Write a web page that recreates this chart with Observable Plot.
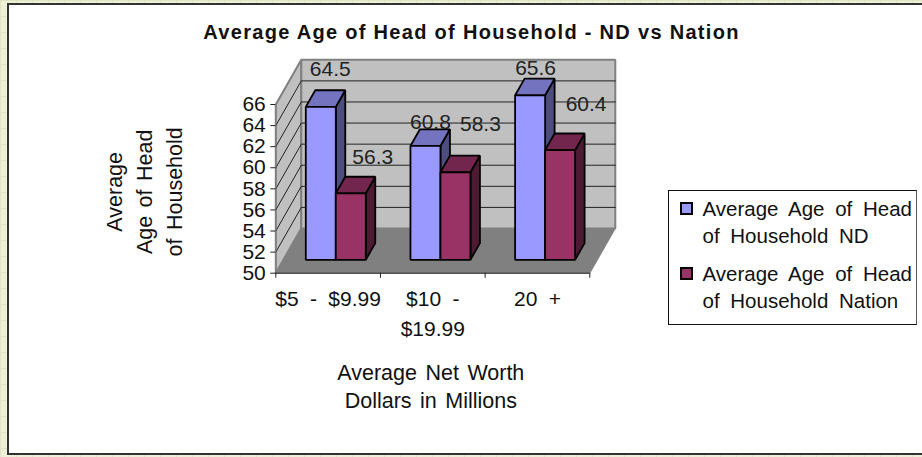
<!DOCTYPE html>
<html>
<head>
<meta charset="utf-8">
<script src="https://cdn.jsdelivr.net/npm/d3@7"></script>
<script src="https://cdn.jsdelivr.net/npm/@observablehq/plot@0.6"></script>
<style>
html,body{margin:0;padding:0;width:922px;height:457px;overflow:hidden;font-family:"Liberation Sans",Arial,sans-serif;color:#111}
body{position:relative;background-color:#eef0d8;
 background-image:linear-gradient(#e0e3c4 1px,transparent 1px),linear-gradient(90deg,#e0e3c4 1px,transparent 1px);
 background-size:16px 16px}
#frame{position:absolute;left:7px;top:3px;right:-4px;bottom:2px;background:#fff;border:2px solid #333;box-sizing:border-box}
#chart{position:absolute;left:0;top:0}
#chart svg{background:transparent!important;display:block}
#chart svg text{word-spacing:2.5px}
#chart svg g[aria-label="x-axis tick label"] text{word-spacing:5.5px}
#chart svg g[font-weight="bold"] text{letter-spacing:1.3px;word-spacing:0}
#legend{position:absolute;left:668px;top:190px;width:249px;height:135px;box-sizing:border-box;background:#fff;border:1px solid #111;border-right-color:#555;font-size:20.5px;line-height:26.5px;word-spacing:5px}
.key{position:absolute;left:11px;width:240px}
.swatch{position:absolute;left:0;top:6px;width:13px;height:13px;box-sizing:border-box;border:2px solid #000}
.lab{position:absolute;left:22.5px;white-space:pre}
</style>
</head>
<body>
<div id="frame"></div>
<div id="chart"></div>
<div id="legend"></div>
<script>
// ---- values ----
const categories = ["$5 - $9.99", "$10 -\n$19.99", "20 +"];
const seriesNames = ["Average Age of Head\nof Household ND", "Average Age of Head\nof Household Nation"];
const ndValues = [64.5, 60.8, 65.6];
const nationValues = [56.3, 58.3, 60.4];
const chartTitle = "Average Age of Head of Household - ND vs Nation";
const yTitle = "Average\nAge of Head\nof Household";
const xTitle = "Average Net Worth\nDollars in Millions";
const yTicks = [50, 52, 54, 56, 58, 60, 62, 64, 66];

// ---- look ----
const faces = [
  {front: "#9999ff", top: "#7373bf", side: "#4d4d80"},
  {front: "#993366", top: "#73264d", side: "#4d1a33"}
];
const yMin = 50, yMax = 66;
// oblique projection: depth 0 = front plane, 1 = back wall
const skewX = 0.2436, skewY = 4.24;
const P = (c, v, d) => ({x: c + d * skewX, y: v + d * skewY});
const barW = 0.2866, gap = (1 - 2 * barW) / 2, d0 = 0.3, d1 = 0.672;

const polys = [];
let pid = 0;
const poly = (pts, fill, stroke, sw) => {
  const id = pid++;
  pts.forEach(p => polys.push({...p, id, fill, stroke, sw}));
};
const n = categories.length;
// side wall, back wall and floor
poly([P(0, yMin, 0), P(0, yMax, 0), P(0, yMax, 1), P(0, yMin, 1)], "#c0c0c0", "#808080", 2);
poly([P(0, yMin, 1), P(0, yMax, 1), P(n, yMax, 1), P(n, yMin, 1)], "#c0c0c0", "#808080", 2);
poly([P(0, yMin, 0), P(n, yMin, 0), P(n, yMin, 1), P(0, yMin, 1)], "#808080", "#808080", 1);
const backPolys = polys.slice(); polys.length = 0;

const wallLines = [];
yTicks.forEach((t, i) => {
  if (t === yMin || t === yMax) return;
  wallLines.push({...P(0, t, 0), k: i}, {...P(0, t, 1), k: i}, {...P(n, t, 1), k: i});
});

const labels = [];
// text offsets from each bar's front-top corner, as in the picture
const nudge = [[[9.5, -38], [22, -36]], [[5, -24], [25, -48]], [[5.5, -27.5], [26, -45.5]]];
categories.forEach((_, c) => {
  [ndValues[c], nationValues[c]].forEach((v, s) => {
    const x0 = c + gap + s * barW, x1 = x0 + barW, f = faces[s];
    poly([P(x1, yMin, d0), P(x1, yMin, d1), P(x1, v, d1), P(x1, v, d0)], f.side, "#000", 1.8);
    poly([P(x0, v, d0), P(x1, v, d0), P(x1, v, d1), P(x0, v, d1)], f.top, "#000", 1.8);
    poly([P(x0, yMin, d0), P(x1, yMin, d0), P(x1, v, d0), P(x0, v, d0)], f.front, "#000", 1.8);
    labels.push({...P((x0 + x1) / 2, v, d0), text: v.toFixed(1), dx: nudge[c][s][0], dy: nudge[c][s][1]});
  });
});

const closed = arr => Plot.line(arr, {x: "x", y: "y", z: "id", fill: "fill", stroke: "stroke",
  strokeWidth: "sw", curve: "linear-closed", strokeLinejoin: "miter"});

const font = {fontFamily: "Liberation Sans, Arial, sans-serif"};
const plot = Plot.plot({
  width: 922, height: 457,
  marginLeft: 275.3, marginRight: 332.7, marginTop: 104, marginBottom: 184.3,
  style: {background: "transparent", ...font, color: "#111"},
  x: {type: "linear", domain: [0, n]},
  y: {type: "linear", domain: [yMin, yMax]},
  marks: [
    closed(backPolys),
    Plot.line(wallLines, {x: "x", y: "y", z: "k", stroke: "#222", strokeWidth: 1}),
    Plot.ruleX([0], {y1: yMin, y2: yMax, stroke: "#808080", strokeWidth: 1}),
    Plot.ruleY([yMin], {x1: 0, x2: n, stroke: "#333", strokeWidth: 1}),
    closed(polys),
    Plot.axisY({ticks: yTicks, tickSize: 5, tickPadding: 5, fontSize: 21, label: null, stroke: "#222", fill: "#111", tickFormat: d => String(d)}),
    Plot.axisX({ticks: d3.range(n + 1), tickSize: 5, tickFormat: () => "", label: null, stroke: "#222"}),
    Plot.axisX({ticks: categories.map((_, i) => i + 0.5), tickSize: 0, tickPadding: 11, fontSize: 21, lineHeight: 1.43, label: null, lineAnchor: "top",
      textAnchor: "middle", fill: "#111", tickFormat: d => categories[Math.floor(d)]}),
    Plot.text(labels, {x: "x", y: "y", text: "text", fontSize: 21, fill: "#222",
      render(index, scales, values, dims, ctx, next) {
        const g = next(index, scales, values, dims, ctx);
        d3.select(g).selectAll("text").each(function (_, j) {
          const l = labels[index[j]];
          d3.select(this).attr("transform", `translate(${scales.x(l.x) + l.dx},${scales.y(l.y) + l.dy})`);
        });
        return g;
      }
    }),
    Plot.text([chartTitle], {frameAnchor: "top-left", dx: 471 - 275.3, dy: 32 - 104, text: d => d, fontSize: 20, fontWeight: "bold", fill: "#111", textAnchor: "middle", lineAnchor: "middle"}),
    Plot.text([yTitle], {frameAnchor: "left", y: () => 58, dx: 146 - 275.3 - 4, dy: 3, text: d => d, rotate: -90, fontSize: 21.5, lineHeight: 1.395, fill: "#111", textAnchor: "middle", lineAnchor: "middle"}),
    Plot.text([xTitle], {x: () => 1.5, dx: -2, frameAnchor: "bottom", dy: 384.5 - 272.7, text: d => d, fontSize: 21.5, lineHeight: 1.3, fill: "#111", lineAnchor: "middle"})
  ]
});
document.getElementById("chart").appendChild(plot);

// legend
const legend = document.getElementById("legend");
seriesNames.forEach((name, s) => {
  const k = document.createElement("div");
  k.className = "key";
  k.style.top = (s === 0 ? 5 : 70) + "px";
  k.innerHTML = `<div class="swatch" style="background:${faces[s].front}"></div><div class="lab"></div>`;
  k.querySelector(".lab").textContent = name;
  legend.appendChild(k);
});
</script>
</body>
</html>
